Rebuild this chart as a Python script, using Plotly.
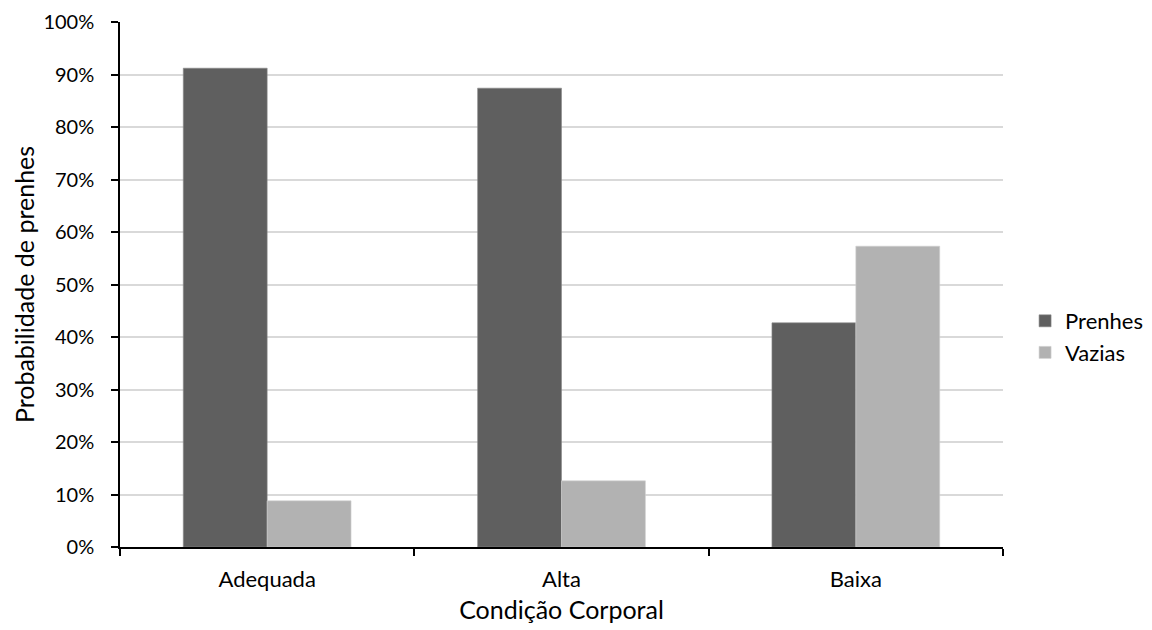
import plotly.graph_objects as go

categories = ["Adequada", "Alta", "Baixa"]
prenhes = [0.912, 0.874, 0.427]
vazias = [0.088, 0.126, 0.573]
y_ticks = [0, 0.1, 0.2, 0.3, 0.4, 0.5, 0.6, 0.7, 0.8, 0.9, 1.0]

FONT = "Lato, 'Open Sans', sans-serif"

fig = go.Figure()
fig.add_trace(go.Bar(x=categories, y=prenhes, name="Prenhes",
                     marker=dict(color="#5f5f5f", line=dict(color="#8a8a8a", width=0.6))))
fig.add_trace(go.Bar(x=categories, y=vazias, name="Vazias",
                     marker=dict(color="#b2b2b2", line=dict(color="#d0d0d0", width=0.6))))

# page body has an 8px margin; compensate so the plot lands where the reference has it
fig.update_layout(
    width=1144, height=622,
    margin=dict(l=112, r=149, t=14, b=83, autoexpand=False),
    paper_bgcolor="white", plot_bgcolor="white",
    barmode="group", bargap=0.43, bargroupgap=0,
    font=dict(family=FONT, size=22, color="#000000"),
    legend=dict(x=1.025, xanchor="left", y=0.40, yanchor="middle",
                font=dict(size=22), itemwidth=30),
    showlegend=True,
)
fig.update_xaxes(
    title=dict(text="Condição Corporal", font=dict(size=25), standoff=10),
    tickfont=dict(size=22),
    showline=True, linecolor="black", linewidth=1.5,
    ticks="outside", tickson="boundaries", ticklen=7, tickcolor="black", tickwidth=1.5,
    ticklabelstandoff=12,
    showgrid=False, automargin=False,
)
fig.update_yaxes(
    title=dict(text="Probabilidade de prenhes", font=dict(size=25), standoff=2),
    tickfont=dict(size=20),
    range=[0, 1.0], tickvals=y_ticks, tickformat=".0%",
    showline=True, linecolor="black", linewidth=1.5,
    ticks="outside", ticklen=7, tickcolor="black", tickwidth=1.5,
    ticklabelstandoff=13,
    showgrid=True, gridcolor="#d9d9d9", gridwidth=1.5,
    zeroline=False, automargin=False,
)

fig.write_html("out.html")
